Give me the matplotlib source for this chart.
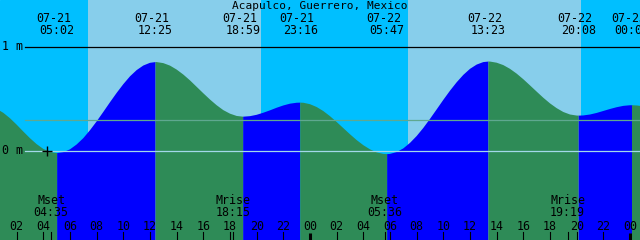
import matplotlib
matplotlib.use("Agg")
import matplotlib.pyplot as plt
import numpy as np

# tide heights (m), read every half hour from 07-21 00:00
hours = [h / 2.0 for h in range(0, 99)]
heights = [0.426, 0.405, 0.367, 0.315, 0.253, 0.187, 0.123, 0.066, 0.020, -0.009,
           -0.020, -0.011, 0.016, 0.063, 0.124, 0.200, 0.285, 0.376, 0.469, 0.559,
           0.643, 0.718, 0.778, 0.822, 0.848, 0.855, 0.845, 0.821, 0.783, 0.735,
           0.679, 0.617, 0.555, 0.495, 0.440, 0.393, 0.359, 0.337, 0.330, 0.335,
           0.348, 0.368, 0.391, 0.416, 0.438, 0.455, 0.464, 0.464, 0.450, 0.423,
           0.384, 0.335, 0.279, 0.220, 0.161, 0.105, 0.056, 0.016, -0.013, -0.028,
           -0.028, -0.010, 0.025, 0.078, 0.144, 0.222, 0.309, 0.400, 0.492, 0.580,
           0.661, 0.732, 0.790, 0.831, 0.855, 0.860, 0.849, 0.826, 0.790, 0.744,
           0.690, 0.631, 0.571, 0.512, 0.458, 0.412, 0.375, 0.351, 0.341, 0.342,
           0.351, 0.366, 0.385, 0.404, 0.421, 0.434, 0.440, 0.438, 0.430]

# high / low tides
ext_dates = ["07-21", "07-21", "07-21", "07-21", "07-22", "07-22", "07-22", "07-23"]
ext_times = ["05:02", "12:25", "18:59", "23:16", "05:47", "13:23", "20:08", "00:09"]
ext_heights = [-0.02, 0.855, 0.33, 0.465, -0.03, 0.86, 0.34, 0.44]
ext_kind = ["L", "H", "L", "H", "L", "H", "L", "H"]

# sun
sun_dates = ["07-21", "07-22"]
sunrise = ["07:21", "07:21"]
sunset = ["20:20", "20:20"]

# moon
moon_names = ["Mset", "Mrise", "Mset", "Mrise"]
moon_dates = ["07-21", "07-21", "07-22", "07-22"]
moon_times = ["04:35", "18:15", "05:36", "19:19"]

title = "Acapulco, Guerrero, Mexico"

day_index = {"07-21": 0, "07-22": 1, "07-23": 2}


def to_hours(date, hm):
    hh, mm = hm.split(":")
    return day_index[date] * 24 + int(hh) + int(mm) / 60.0


# pixel layout helpers (640x240 picture)
PX_H = 320 / 24.0      # pixels per hour
X0 = 0.75              # hour at left edge
Y0PX = 151             # pixel row of 0 m
PX_M = 104             # pixels per metre


def px_x(px):
    return X0 + px / PX_H


def px_y(py):
    return (Y0PX - py) / PX_M


NIGHT = "#00BFFF"
DAY = "#87CEEB"
FLOOD = "#0000FF"
EBB = "#2E8B57"
FONT = dict(family="DejaVu Sans Mono", fontsize=8.4, color="black")

ext_t = [to_hours(d, t) for d, t in zip(ext_dates, ext_times)]

t_all = np.array(hours + ext_t, dtype=float)
h_all = np.array(heights + ext_heights, dtype=float)
order = np.argsort(t_all, kind="stable")
t_all = t_all[order]
h_all = h_all[order]

fig = plt.figure(figsize=(6.4, 2.4), dpi=100)
ax = fig.add_axes([0, 0, 1, 1])
ax.set_xlim(px_x(0), px_x(640))
ax.set_ylim(px_y(240), px_y(0))
ax.axis("off")
ax.add_patch(plt.Rectangle((0, 0), 1, 1, transform=ax.transAxes, color=NIGHT, zorder=0))

# daylight
for d, sr, ss in zip(sun_dates, sunrise, sunset):
    ax.axvspan(to_hours(d, sr), to_hours(d, ss), color=DAY, lw=0, zorder=1)

# flood / ebb fill
bottom = px_y(240)
flood = np.zeros(len(t_all), dtype=bool)
ebb = np.zeros(len(t_all), dtype=bool)
bounds = [-10] + ext_t + [100]
kinds = ["H"] + ext_kind
for k in range(len(bounds) - 1):
    seg = (t_all >= bounds[k]) & (t_all <= bounds[k + 1])
    if kinds[k] == "L":
        flood |= seg
    else:
        ebb |= seg
ax.fill_between(t_all, bottom, h_all, where=flood, color=FLOOD, lw=0, zorder=2)
ax.fill_between(t_all, bottom, h_all, where=ebb, color=EBB, lw=0, zorder=2)

# reference lines
ax.plot([px_x(25), px_x(640)], [1, 1], color="black", lw=0.9, zorder=3)
ax.plot([px_x(25), px_x(640)], [0, 0], color="#A3D8EA", lw=0.9, zorder=3)
ax.plot([px_x(25), px_x(640)], [px_y(120), px_y(120)], color="#5FA890", lw=0.9, zorder=3)
ax.text(px_x(2), 1, "1 m", ha="left", va="center", zorder=4, **FONT)
ax.text(px_x(2), 0, "0 m", ha="left", va="center", zorder=4, **FONT)
ax.plot([px_x(47)], [0.0], marker="+", color="black", ms=7, mew=1.0, zorder=4)

# title
ax.text(px_x(320), px_y(6.3), title, ha="center", va="center", zorder=4,
        family="DejaVu Sans Mono", fontsize=8.0, color="black")

# tide labels
for d, tm, t in zip(ext_dates, ext_times, ext_t):
    ax.text(t - 3.5 / PX_H, px_y(18.5), d, ha="center", va="center", zorder=4, **FONT)
    ax.text(t, px_y(31), tm, ha="center", va="center", zorder=4, **FONT)

# moon labels
for name, d, tm in zip(moon_names, moon_dates, moon_times):
    t = to_hours(d, tm)
    ax.text(t, px_y(200.5), name, ha="center", va="center", zorder=4, **FONT)
    ax.text(t, px_y(213), tm, ha="center", va="center", zorder=4, **FONT)
    ax.plot([t, t], [px_y(232), px_y(240)], color="black", lw=0.8, zorder=4)

# hour axis
for h in range(2, 49, 2):
    ax.text(h, px_y(226), f"{h % 24:02d}", ha="center", va="center", zorder=4, **FONT)
    if h % 24 == 0:
        ax.plot([h, h], [px_y(233), px_y(240)], color="black", lw=2.2, zorder=4,
                solid_capstyle="butt")
    else:
        ax.plot([h, h], [px_y(232), px_y(240)], color="black", lw=0.8, zorder=4)

plt.savefig("out.png", dpi=100)
